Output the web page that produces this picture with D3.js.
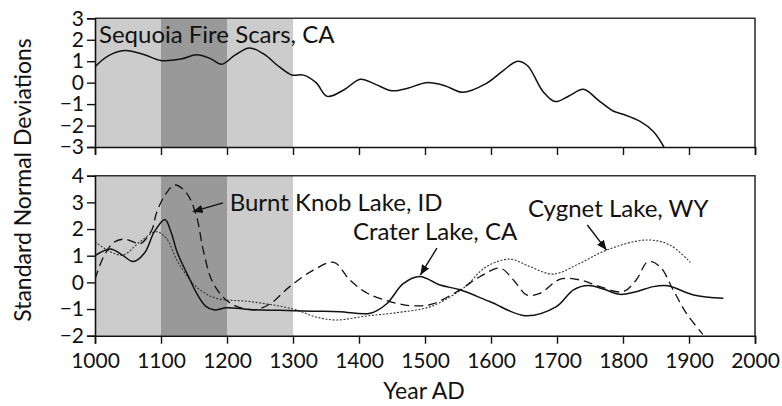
<!DOCTYPE html>
<html>
<head>
<meta charset="utf-8">
<script src="https://cdn.jsdelivr.net/npm/d3@7"></script>
<style>
  html, body { margin: 0; padding: 0; background: #fff; }
  text { font-family: Lato, "Noto Sans", sans-serif; fill: #111; }
</style>
</head>
<body>
<svg id="chart" width="782" height="406"></svg>
<script>
// Shaded intervals (years AD)
const bands = [
  { from: 1000, to: 1100, shade: "light" },
  { from: 1100, to: 1200, shade: "dark" },
  { from: 1200, to: 1300, shade: "light" }
];

// Sequoia fire-scar record (top panel)
const sequoiaYears = [1000, 1020, 1045, 1075, 1100, 1130, 1154, 1175, 1192, 1212, 1234, 1255, 1280, 1298, 1316, 1335, 1352, 1378, 1402, 1425, 1450, 1475, 1502, 1530, 1557, 1593, 1620, 1639, 1655, 1679, 1697, 1718, 1740, 1762, 1785, 1800, 1826, 1846, 1862];
const sequoiaValues = [0.74, 1.25, 1.50, 1.30, 1.03, 1.10, 1.30, 1.12, 0.86, 1.28, 1.62, 1.35, 0.72, 0.36, 0.35, 0.00, -0.64, -0.32, 0.16, -0.08, -0.38, -0.25, 0.00, -0.14, -0.45, -0.03, 0.60, 0.99, 0.80, -0.42, -0.88, -0.62, -0.31, -0.80, -1.32, -1.47, -1.81, -2.28, -3.00];

// Lake charcoal records (bottom panel)
const craterYears = [1000, 1023, 1040, 1058, 1075, 1090, 1106, 1115, 1125, 1140, 1155, 1168, 1180, 1200, 1235, 1280, 1330, 1371, 1417, 1442, 1467, 1492, 1523, 1553, 1598, 1652, 1699, 1725, 1748, 1770, 1795, 1820, 1846, 1868, 1907, 1952];
const craterValues = [1.00, 1.25, 1.05, 0.78, 1.10, 1.90, 2.36, 1.90, 1.10, 0.30, -0.45, -0.90, -1.03, -0.95, -1.02, -1.05, -1.08, -1.10, -1.16, -0.80, -0.05, 0.22, -0.10, -0.28, -0.72, -1.25, -0.91, -0.28, -0.12, -0.25, -0.45, -0.35, -0.16, -0.13, -0.47, -0.60];

const burntYears = [1000, 1013, 1028, 1044, 1058, 1068, 1086, 1093, 1106, 1121, 1139, 1154, 1164, 1179, 1205, 1240, 1265, 1295, 1331, 1362, 1386, 1412, 1442, 1470, 1495, 1513, 1553, 1583, 1614, 1634, 1654, 1674, 1705, 1735, 1765, 1800, 1820, 1838, 1856, 1876, 1896, 1921];
const burntValues = [0.12, 0.96, 1.49, 1.62, 1.52, 1.44, 1.96, 2.59, 3.27, 3.65, 3.34, 2.46, 1.21, -0.03, -0.78, -1.03, -0.81, -0.16, 0.46, 0.75, 0.09, -0.40, -0.68, -0.85, -0.88, -0.80, -0.28, 0.21, 0.53, 0.09, -0.47, -0.41, 0.12, 0.09, -0.16, -0.35, 0.09, 0.78, 0.59, -0.28, -1.16, -1.95];

const cygnetYears = [1000, 1023, 1043, 1068, 1093, 1109, 1124, 1144, 1159, 1184, 1235, 1300, 1335, 1366, 1412, 1462, 1508, 1558, 1593, 1629, 1659, 1694, 1735, 1775, 1836, 1871, 1902];
const cygnetValues = [1.52, 1.15, 1.03, 1.52, 1.90, 1.62, 0.84, 0.09, -0.28, -0.60, -0.72, -1.00, -1.30, -1.41, -1.26, -1.12, -0.91, -0.22, 0.59, 0.87, 0.59, 0.31, 0.72, 1.21, 1.59, 1.40, 0.75];

// Axis ticks
const xTicks = [1000, 1100, 1200, 1300, 1400, 1500, 1600, 1700, 1800, 1900, 2000];
const topTicks = [-3, -2, -1, 0, 1, 2, 3];
const bottomTicks = [-2, -1, 0, 1, 2, 3, 4];

// Text annotations: label position and arrow (tail -> head), in data units
const annotations = [
  { text: "Burnt Knob Lake, ID", year: 1204, value: 2.67, tail: [1194, 2.98], head: [1148, 2.65] },
  { text: "Crater Lake, CA", year: 1391, value: 1.58, tail: [1518, 1.28], head: [1493, 0.28] },
  { text: "Cygnet Lake, WY", year: 1656, value: 2.46, tail: [1746, 2.15], head: [1775, 1.21] }
];
const topTitle = { text: "Sequoia Fire Scars, CA", year: 1006, value: 1.86 };

const svg = d3.select("#chart");
const tickFont = 21;
const labelFont = 24;

const x = d3.scaleLinear().domain([1000, 2000]).range([95, 755]);
const yTop = d3.scaleLinear().domain([-3, 3]).range([147, 18.3]);
const yBot = d3.scaleLinear().domain([-2, 4]).range([335.7, 175.7]);

const shadeColor = { light: "#cccccc", dark: "#999999" };

function zip(xs, vs) { return xs.map((d, i) => [d, vs[i]]); }

function panel(y) {
  const g = svg.append("g");
  const [y0, y1] = y.range();
  g.selectAll("rect.band").data(bands).join("rect")
    .attr("class", "band")
    .attr("x", d => x(d.from))
    .attr("width", d => x(d.to) - x(d.from))
    .attr("y", y1)
    .attr("height", y0 - y1)
    .attr("fill", d => shadeColor[d.shade]);
  return g;
}

function frame(g, y, ticks, showXLabels) {
  const [y0, y1] = y.range();
  // top and right borders
  g.append("path")
    .attr("d", `M${x(1000)},${y1}H${x(2000)}V${y0}`)
    .attr("fill", "none").attr("stroke", "#333").attr("stroke-width", 1.6);

  const xa = d3.axisBottom(x).tickValues(xTicks).tickSize(8).tickPadding(9)
    .tickFormat(showXLabels ? d3.format("d") : () => "");
  const gx = g.append("g").attr("transform", `translate(0,${y0})`).call(xa);
  gx.select(".domain").attr("stroke", "#111").attr("stroke-width", 1.6);
  gx.selectAll(".tick line").attr("stroke", "#111").attr("stroke-width", 1.4);
  gx.selectAll("text").attr("font-size", tickFont).attr("fill", "#111")
    .style("font-family", "Lato, 'Noto Sans', sans-serif");

  const ya = d3.axisLeft(y).tickValues(ticks).tickSize(8).tickPadding(3).tickFormat(d3.format("d"));
  const gy = g.append("g").attr("transform", `translate(${x(1000)},0)`).call(ya);
  gy.select(".domain").attr("stroke", "#111").attr("stroke-width", 1.6);
  gy.selectAll(".tick line").attr("stroke", "#111").attr("stroke-width", 1.4);
  gy.selectAll("text").attr("font-size", tickFont).attr("fill", "#111")
    .style("font-family", "Lato, 'Noto Sans', sans-serif");
}

// ---- top panel ----
const gTop = panel(yTop);
const lineTop = d3.line().x(d => x(d[0])).y(d => yTop(d[1])).curve(d3.curveCatmullRom.alpha(0.5));
gTop.append("path")
  .datum(zip(sequoiaYears, sequoiaValues))
  .attr("d", lineTop)
  .attr("fill", "none").attr("stroke", "#111").attr("stroke-width", 1.5);
gTop.append("text")
  .attr("x", x(topTitle.year)).attr("y", yTop(topTitle.value))
  .attr("font-size", labelFont).text(topTitle.text);
frame(gTop, yTop, topTicks, false);

// ---- bottom panel ----
const gBot = panel(yBot);
const clipId = "plotclip";
svg.append("clipPath").attr("id", clipId).append("rect")
  .attr("x", x(1000)).attr("y", yBot.range()[1])
  .attr("width", x(2000) - x(1000)).attr("height", yBot.range()[0] - yBot.range()[1]);

const lineBot = d3.line().x(d => x(d[0])).y(d => yBot(d[1])).curve(d3.curveCatmullRom.alpha(0.5));
const series = [
  { years: cygnetYears, values: cygnetValues, stroke: "#333", width: 1.1, dash: "2,1.6" },
  { years: burntYears, values: burntValues, stroke: "#111", width: 1.3, dash: "9,5" },
  { years: craterYears, values: craterValues, stroke: "#111", width: 1.5, dash: null }
];
gBot.append("g").attr("clip-path", `url(#${clipId})`)
  .selectAll("path").data(series).join("path")
  .attr("d", d => lineBot(zip(d.years, d.values)))
  .attr("fill", "none")
  .attr("stroke", d => d.stroke)
  .attr("stroke-width", d => d.width)
  .attr("stroke-dasharray", d => d.dash);

// arrowhead
svg.append("defs").append("marker")
  .attr("id", "arrowhead").attr("viewBox", "0 0 10 10")
  .attr("refX", 10).attr("refY", 5)
  .attr("markerWidth", 10).attr("markerHeight", 10)
  .attr("markerUnits", "userSpaceOnUse")
  .attr("orient", "auto")
  .append("path").attr("d", "M0,0.8L10,5L0,9.2Z").attr("fill", "#111");

gBot.selectAll("line.arrow").data(annotations).join("line")
  .attr("class", "arrow")
  .attr("x1", d => x(d.tail[0])).attr("y1", d => yBot(d.tail[1]))
  .attr("x2", d => x(d.head[0])).attr("y2", d => yBot(d.head[1]))
  .attr("stroke", "#111").attr("stroke-width", 1.4)
  .attr("marker-end", "url(#arrowhead)");

gBot.selectAll("text.note").data(annotations).join("text")
  .attr("class", "note")
  .attr("x", d => x(d.year)).attr("y", d => yBot(d.value))
  .attr("font-size", labelFont)
  .text(d => d.text);

frame(gBot, yBot, bottomTicks, true);

// axis titles
svg.append("text")
  .attr("x", 424).attr("y", 399)
  .attr("text-anchor", "middle").attr("font-size", 23)
  .text("Year AD");
svg.append("text")
  .attr("transform", `translate(31,${(yTop.range()[1] + yBot.range()[0]) / 2 + 3}) rotate(-90)`)
  .attr("text-anchor", "middle").attr("font-size", 23)
  .text("Standard Normal Deviations");
</script>
</body>
</html>
